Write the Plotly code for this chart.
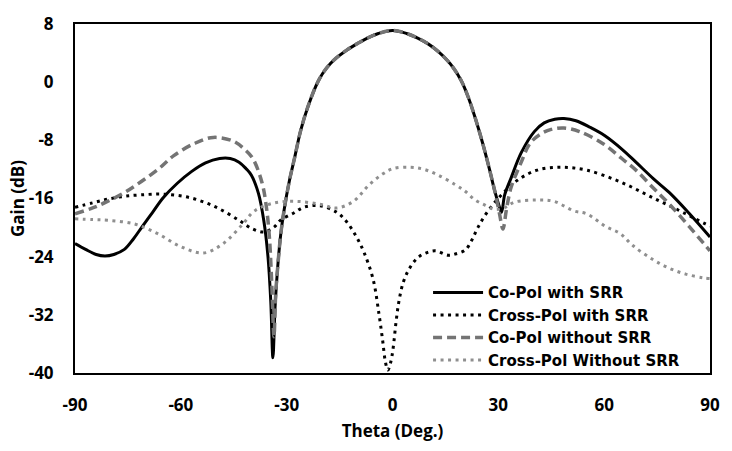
import plotly.graph_objects as go

# ---------------- data ----------------
theta_co_srr = [-90, -87, -84, -81.5, -79, -76, -73.5, -71, -68, -65, -61, -57, -53, -49, -46, -43.5, -41.5,
                -40, -38, -36.5, -35.3, -34.5, -33.9, -33.3, -32.6, -31.7, -30.7, -29.2, -27.8, -26, -24,
                -21, -18.6, -16, -13, -10, -7, -4, 0, 4, 7, 10, 13, 15.5, 17.2, 19.5, 21.5, 23.5, 25.5,
                27.5, 29, 30.2, 30.9, 31.8, 33.6, 36.5, 40.2, 43, 46, 48.6, 52, 56, 60, 65, 69, 74, 78.5,
                84, 90]
gain_co_srr = [-22.2, -23.0, -23.7, -23.9, -23.7, -23.0, -21.6, -19.9, -17.9, -15.9, -13.9, -12.3, -11.1,
               -10.5, -10.5, -11.0, -11.9, -12.8, -15.3, -19.0, -24.0, -30.2, -37.9, -31.0, -25.8, -21.0,
               -17.5, -13.5, -10.5, -6.6, -3.4, 0.2, 2.0, 3.3, 4.4, 5.3, 6.1, 6.7, 7.1, 6.7, 6.1, 5.3,
               4.2, 3.0, 2.0, 0.2, -2.1, -5.0, -8.3, -12.0, -15.0, -17.0, -17.9, -15.5, -13.2, -9.7,
               -6.8, -5.6, -5.1, -5.0, -5.3, -6.2, -7.3, -9.2, -11.0, -13.3, -15.2, -18.0, -21.3]

theta_x_srr = [-90, -85, -80.8, -76, -71.3, -64.8, -57.3, -50, -43.5, -39.6, -36.3, -33.5, -31.8, -28,
               -25.1, -20.6, -15.8, -13, -10.2, -8, -5.5, -3.8, -2.8, -2.0, -1.3, -0.5, 0.2, 1.0, 1.8,
               3, 4.6, 7, 9.4, 12.2, 15.8, 18, 20.6, 22.5, 24.3, 27.1, 30.9, 35.4, 41, 47.7, 55, 64.5,
               73.8, 83.1, 88.7, 90]
gain_x_srr = [-17.2, -16.6, -16.1, -15.7, -15.5, -15.4, -15.9, -17.2, -19.0, -20.2, -20.6, -19.9, -19.0,
              -18.0, -17.2, -17.0, -17.9, -19.2, -21.3, -23.5, -27.1, -32.0, -35.5, -38.5, -39.6, -38.5,
              -36.5, -33.0, -30.2, -27.6, -25.8, -24.2, -23.5, -23.2, -23.8, -23.6, -23.1, -21.7, -19.9,
              -17.7, -15.5, -13.5, -12.1, -11.7, -12.1, -13.7, -15.9, -18.1, -19.5, -19.8]

theta_co_nosrr = [-90, -85, -80.8, -76, -71.3, -66, -62, -56, -50.8, -45.2, -42, -39.6, -37, -35.8, -34.9,
                  -34.2, -33.6, -33.1, -32.6, -31.7, -30.7, -29.2, -27.8, -26, -24, -21, -18.6, -16, -13,
                  -10, -7, -4, 0, 4, 7, 10, 13, 15.5, 17.2, 19.5, 21.5, 23.5, 25.5, 27.5, 29, 30.3, 31.3,
                  32.3, 33.6, 36.5, 39, 42.1, 45, 48.6, 53, 59.8, 65, 69, 74, 78.5, 84, 90]
gain_co_nosrr = [-18.1, -17.3, -16.4, -15.2, -13.7, -11.8, -10.1, -8.4, -7.6, -8.1, -9.2, -10.5, -13.8,
                 -17.0, -21.3, -28.0, -35.0, -29.0, -25.8, -21.0, -17.5, -13.5, -10.5, -6.6, -3.4, 0.2,
                 2.0, 3.3, 4.4, 5.3, 6.1, 6.7, 7.1, 6.7, 6.1, 5.3, 4.2, 3.0, 2.0, 0.2, -2.1, -5.0, -8.3,
                 -12.0, -15.0, -18.0, -20.2, -17.5, -14.5, -11.0, -8.4, -7.1, -6.5, -6.3, -6.8, -8.5,
                 -10.5, -12.1, -14.6, -16.8, -19.8, -23.2]

theta_x_nosrr = [-90, -85, -80.8, -73.2, -66.7, -60.1, -53.6, -48, -42.4, -39.1, -33.5, -27, -20.6, -15.8,
                 -11.1, -6.6, -3, 0.1, 5.2, 9, 13, 17.8, 20.6, 23.4, 26.2, 29, 32, 34.6, 41, 45.8, 51.4,
                 55, 60.6, 64.5, 68.2, 73.8, 78.5, 83.1, 88, 90]
gain_x_nosrr = [-18.8, -18.9, -19.0, -19.5, -20.8, -22.6, -23.5, -22.2, -19.5, -17.7, -16.6, -16.4, -16.8,
                -17.3, -16.4, -14.1, -12.7, -11.9, -11.7, -12.0, -12.8, -14.1, -15.0, -16.2, -16.9, -17.5,
                -17.2, -16.5, -16.2, -16.4, -17.7, -18.1, -19.9, -20.8, -22.5, -24.4, -25.6, -26.4,
                -26.9, -27.0]

series_names = ["Co-Pol with SRR", "Cross-Pol with SRR", "Co-Pol without SRR", "Cross-Pol Without SRR"]
x_ticks = [-90, -60, -30, 0, 30, 60, 90]
y_ticks = [-40, -32, -24, -16, -8, 0, 8]

FONT = "Open Sans"
LEG_FONT = "DejaVu Sans"
SMOOTH = 1.0

fig = go.Figure()
fig.add_trace(go.Scatter(x=theta_co_srr, y=gain_co_srr, mode="lines", name=series_names[0],
                         line=dict(color="#000000", width=3, shape="spline", smoothing=SMOOTH)))
fig.add_trace(go.Scatter(x=theta_x_srr, y=gain_x_srr, mode="lines", name=series_names[1],
                         line=dict(color="#000000", width=3, dash="3px,4.5px", shape="spline", smoothing=SMOOTH)))
fig.add_trace(go.Scatter(x=theta_co_nosrr, y=gain_co_nosrr, mode="lines", name=series_names[2],
                         line=dict(color="#747474", width=3.5, dash="9px,5px", shape="spline", smoothing=SMOOTH)))
fig.add_trace(go.Scatter(x=theta_x_nosrr, y=gain_x_nosrr, mode="lines", name=series_names[3],
                         line=dict(color="#8f8f8f", width=3, dash="3px,4.5px", shape="spline", smoothing=SMOOTH)))

axis_common = dict(showgrid=False, zeroline=False, showline=True, linecolor="black", linewidth=2,
                   mirror=True, ticks="", ticklabelstandoff=16,
                   tickfont=dict(family=FONT, size=17, color="black", weight="bold"))

fig.update_layout(
    width=732, height=451,
    margin=dict(l=75, r=14, t=15, b=78),
    paper_bgcolor="white", plot_bgcolor="white",
    showlegend=True,
    legend=dict(x=0.556, y=0.277, xanchor="left", yanchor="top", bgcolor="rgba(0,0,0,0)",
                font=dict(family=LEG_FONT, size=15, color="black", weight="bold"),
                itemwidth=50, tracegroupgap=0),
    xaxis=dict(range=[-90, 90], tickvals=x_ticks, ticktext=[str(v) for v in x_ticks],
               title=dict(text="Theta (Deg.)", standoff=10,
                          font=dict(family=FONT, size=17, color="black", weight="bold")),
               **axis_common),
    yaxis=dict(range=[-40, 8], tickvals=y_ticks, ticktext=[str(v) for v in y_ticks],
               title=dict(text="Gain (dB)", standoff=0,
                          font=dict(family=FONT, size=17, color="black", weight="bold")),
               **axis_common),
)

fig.write_html("out.html")
